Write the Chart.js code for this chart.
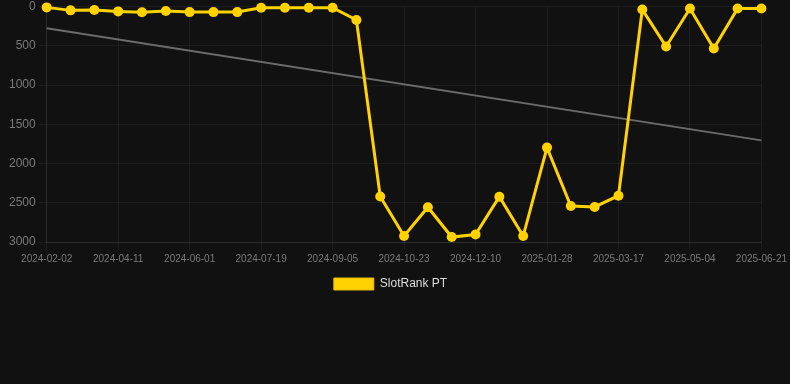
<!DOCTYPE html>
<html>
<head>
<meta charset="utf-8">
<script src="https://cdn.jsdelivr.net/npm/chart.js@4/dist/chart.umd.min.js"></script>
<style>
  html, body { margin: 0; padding: 0; background: #111111; }
  #wrap { position: relative; width: 790px; height: 300px; }
</style>
</head>
<body>
<div id="wrap"><canvas id="c"></canvas></div>
<script>
const dates = [
  "2024-02-02", "2024-02-25", "2024-03-19",
  "2024-04-11", "2024-04-28", "2024-05-15",
  "2024-06-01", "2024-06-17", "2024-07-03",
  "2024-07-19", "2024-08-04", "2024-08-20",
  "2024-09-05", "2024-09-21", "2024-10-07",
  "2024-10-23", "2024-11-08", "2024-11-24",
  "2024-12-10", "2024-12-26", "2025-01-11",
  "2025-01-28", "2025-02-13", "2025-03-01",
  "2025-03-17", "2025-04-02", "2025-04-18",
  "2025-05-04", "2025-05-20", "2025-06-05",
  "2025-06-21"
];
const slotRankPT = [
  10, 48, 44, 61, 73, 57, 70, 70, 70, 15, 15, 15, 15, 170,
  2420, 2924, 2557, 2937, 2904, 2423, 2924, 1797, 2541, 2553, 2410,
  38, 509, 25, 534, 25, 25
];
const trendStart = 275;
const trendEnd = 1705;
const yTicks = [0, 500, 1000, 1500, 2000, 2500, 3000];

new Chart(document.getElementById('c'), {
  type: 'line',
  data: {
    labels: dates,
    datasets: [
      {
        label: 'SlotRank PT',
        data: slotRankPT,
        borderColor: '#FFD200',
        backgroundColor: '#FFD200',
        borderWidth: 3,
        pointRadius: 5,
        pointBorderWidth: 0,
        pointHoverRadius: 5,
        pointBackgroundColor: '#FFD200',
        pointBorderColor: '#FFD200',
        tension: 0,
        clip: false
      },
      {
        label: 'trend',
        data: [{x: dates[0], y: trendStart}, {x: dates[dates.length - 1], y: trendEnd}],
        borderColor: '#6b6b6b',
        borderWidth: 2,
        pointRadius: 0,
        fill: false,
        tension: 0
      }
    ]
  },
  options: {
    responsive: true,
    maintainAspectRatio: false,
    animation: false,
    layout: { padding: { left: 6, right: 15, top: 0, bottom: 0 } },
    plugins: {
      legend: {
        position: 'bottom',
        labels: {
          color: '#dddddd',
          font: { size: 12, family: 'Liberation Sans, Arial, sans-serif' },
          boxWidth: 40,
          boxHeight: 12,
          filter: (item) => item.text !== 'trend',
          generateLabels: (chart) => {
            const items = Chart.defaults.plugins.legend.labels.generateLabels(chart);
            items.forEach(it => { it.lineWidth = 1; it.strokeStyle = '#E0B800'; });
            return items;
          }
        }
      },
      tooltip: { enabled: false }
    },
    scales: {
      x: {
        type: 'category',
        grid: { color: 'rgba(255,255,255,0.05)', tickLength: 8 },
        border: { color: 'rgba(255,255,255,0.08)' },
        ticks: {
          color: '#7a7a7a',
          font: { size: 10, family: 'Liberation Sans, Arial, sans-serif' },
          maxRotation: 0,
          autoSkip: true,
          maxTicksLimit: 11
        }
      },
      y: {
        reverse: true,
        min: yTicks[0],
        max: yTicks[yTicks.length - 1],
        afterBuildTicks: (axis) => { axis.ticks = yTicks.map(v => ({ value: v })); },
        grid: { color: 'rgba(255,255,255,0.05)', tickLength: 8 },
        border: { color: 'rgba(255,255,255,0.08)' },
        ticks: {
          color: '#7a7a7a',
          font: { size: 12, lineHeight: 0.6, family: 'Liberation Sans, Arial, sans-serif' },
          callback: (v) => String(v)
        }
      }
    }
  }
});
</script>
</body>
</html>
